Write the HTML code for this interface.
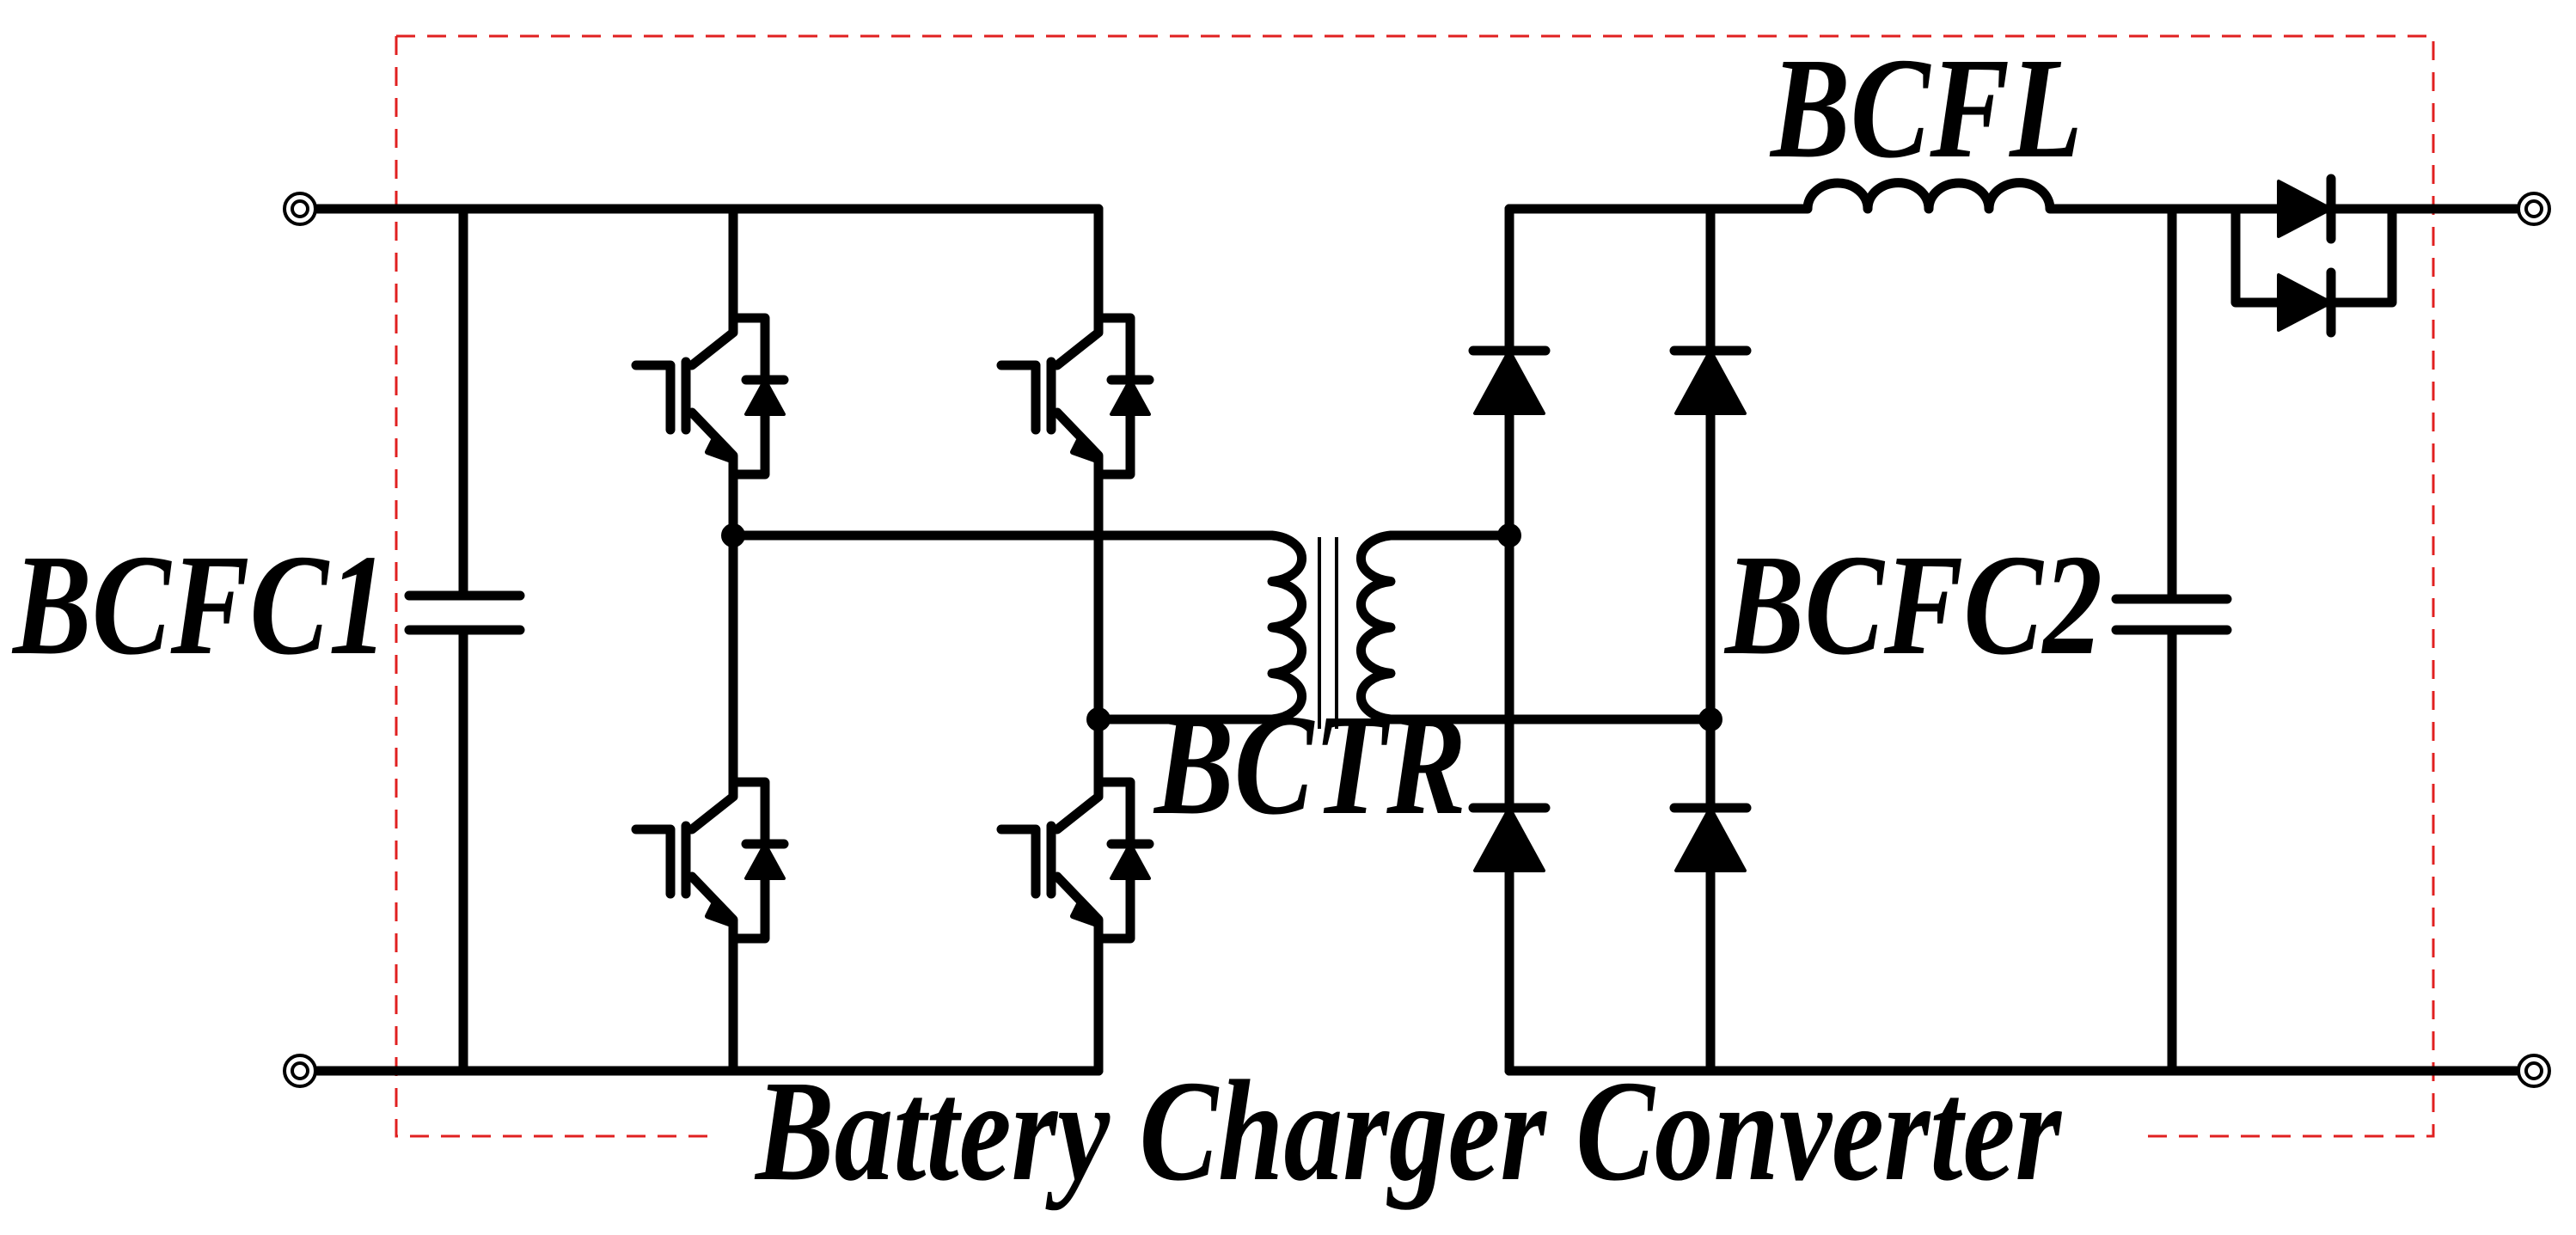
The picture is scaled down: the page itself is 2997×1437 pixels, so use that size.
<!DOCTYPE html>
<html><head><meta charset="utf-8"><style>html,body{margin:0;padding:0;background:#fff}svg{display:block}
.lbl{font-family:"Liberation Serif","Times New Roman",serif;font-weight:bold;font-style:italic;font-size:168px;fill:#000}</style></head>
<body>
<svg width="2997" height="1437" viewBox="0 0 2997 1437" xmlns="http://www.w3.org/2000/svg">
<defs>
<g id="igbt" fill="none" stroke="#000" stroke-width="11" stroke-linecap="round" stroke-linejoin="round">
  <path d="M0 0 V17 L-48 55"/>
  <path d="M-48 110 L0 160 V182"/>
  <path d="M0 0 H37 V182 H0"/>
  <path d="M-55 51 V130"/>
  <path d="M-113 55 H-73 V130"/>
  <path d="M15 72 H59"/>
  <polygon points="37,72 15,112 59,112" fill="#000" stroke-width="4"/>
  <polygon points="-2,166 -22,140 -30,156" fill="#000" stroke-width="6"/>
</g>
</defs>
<g fill="none" stroke="#e02020" stroke-width="3" stroke-dasharray="22 14">
  <path d="M461 42 H2831 V1322 H2486"/>
  <path d="M461 42 V1322 H825"/>
</g>
<g fill="none" stroke="#000" stroke-width="11" stroke-linecap="round" stroke-linejoin="round">
  <path d="M349 243 H1278"/>
  <path d="M349 1246 H1278"/>
  <path d="M539 243 V693 M539 733 V1246"/>
  <path d="M476 693 H605 M476 733 H605"/>
  <path d="M853 243 V370 M853 552 V910 M853 1092 V1246"/>
  <path d="M1278 243 V370 M1278 552 V910 M1278 1092 V1246"/>
  <path d="M853 623 H1480 A40 27 0 0 1 1480 676.5 A40 27 0 0 1 1480 730 A40 27 0 0 1 1480 783.5 A40 27 0 0 1 1480 837 H1278"/>
  <path d="M1756 623 H1618 A40 27 0 0 0 1618 676.5 A40 27 0 0 0 1618 730 A40 27 0 0 0 1618 783.5 A40 27 0 0 0 1618 837 H1990"/>
  <path d="M1756 243 H2103 A35 30 0 0 1 2173 243 A35 30 0 0 1 2244 243 A35 30 0 0 1 2314 243 A35 30 0 0 1 2385 243 H2948"/>
  <path d="M2601 243 V352 H2783 V243"/>
  <path d="M1756 243 V1246 M1990 243 V1246"/>
  <path d="M1756 1246 H2948"/>
  <path d="M2527 243 V697 M2527 733 V1246"/>
  <path d="M2462 697 H2591 M2462 733 H2591"/>
  <path d="M1714 408 H1798 M1948 408 H2032 M1714 940 H1798 M1948 940 H2032"/>
  <path d="M2712 208 V278 M2712 317 V387"/>
</g>
<g stroke="#000" stroke-width="4">
  <path d="M1535 625 V848 M1555 625 V848"/>
</g>
<g fill="#000" stroke="#000" stroke-width="4" stroke-linejoin="round">
  <polygon points="1756,408 1716,481 1796,481"/>
  <polygon points="1990,408 1950,481 2030,481"/>
  <polygon points="1756,940 1716,1013 1796,1013"/>
  <polygon points="1990,940 1950,1013 2030,1013"/>
  <polygon points="2651,211 2651,275 2712,243"/>
  <polygon points="2651,320 2651,384 2712,352"/>
  <circle cx="853" cy="623" r="12"/>
  <circle cx="1278" cy="837" r="12"/>
  <circle cx="1756" cy="623" r="12"/>
  <circle cx="1990" cy="837" r="12"/>
</g>
<use href="#igbt" transform="translate(853,370)"/>
<use href="#igbt" transform="translate(1278,370)"/>
<use href="#igbt" transform="translate(853,910)"/>
<use href="#igbt" transform="translate(1278,910)"/>
<g fill="#fff" stroke="#000" stroke-width="4">
  <circle cx="349" cy="243" r="18"/><circle cx="349" cy="243" r="9"/>
  <circle cx="349" cy="1246" r="18"/><circle cx="349" cy="1246" r="9"/>
  <circle cx="2948" cy="243" r="18"/><circle cx="2948" cy="243" r="9"/>
  <circle cx="2948" cy="1246" r="18"/><circle cx="2948" cy="1246" r="9"/>
</g>
<g class="lbl">
  <text class="lbl" x="15" y="760" textLength="436" lengthAdjust="spacingAndGlyphs">BCFC1</text>
  <text class="lbl" x="2060" y="182" textLength="363" lengthAdjust="spacingAndGlyphs">BCFL</text>
  <text class="lbl" x="2007" y="760" textLength="439" lengthAdjust="spacingAndGlyphs">BCFC2</text>
  <text class="lbl" x="1343" y="946" textLength="363" lengthAdjust="spacingAndGlyphs">BCTR</text>
  <text class="lbl" x="879" y="1372" textLength="1519" lengthAdjust="spacingAndGlyphs">Battery Charger Converter</text>
</g>
</svg>
</body></html>
